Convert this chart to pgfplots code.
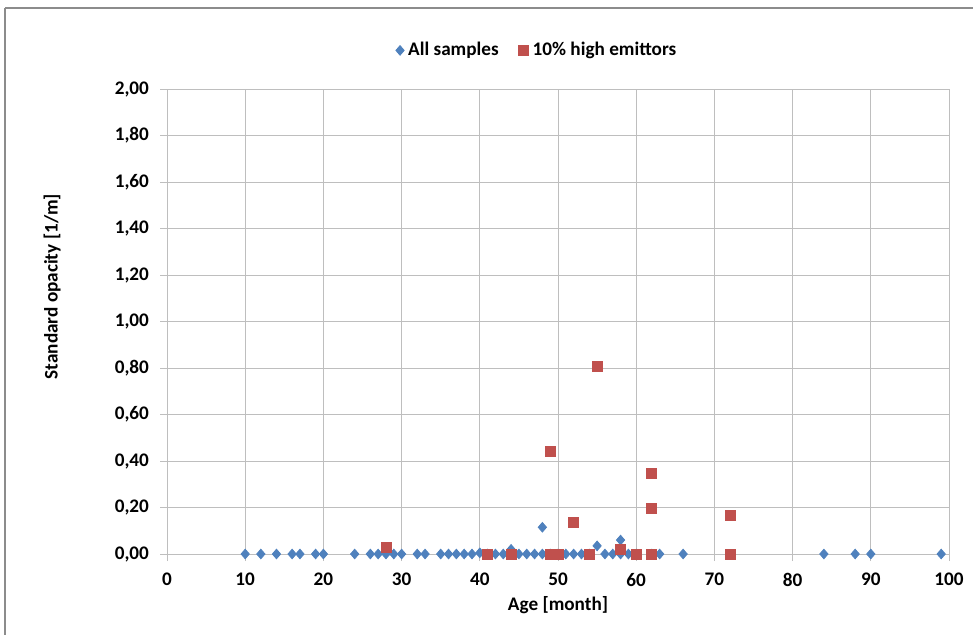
\documentclass[border=0pt]{standalone}
\usepackage{pgfplots}
\pgfplotsset{compat=1.18}
\usepackage{fontspec}
\setmainfont{Carlito}
\definecolor{gridgray}{RGB}{190,190,190}
\definecolor{framegray}{RGB}{140,140,140}
\definecolor{xlblue}{RGB}{79,129,189}
\definecolor{xlred}{RGB}{192,80,77}
\begin{document}
\begin{tikzpicture}
\useasboundingbox (0,0) rectangle (486.5pt,317pt);
\draw[framegray, line width=0.6pt] (2.5pt,313pt) -- (2.5pt,-5pt);
\draw[framegray, line width=0.6pt] (2.5pt,313pt) -- (495pt,313pt);
\begin{axis}[
  at={(83.5pt,40pt)}, anchor=south west,
  scale only axis, width=391pt, height=232.5pt,
  font=\fontsize{9.6}{11}\selectfont\bfseries,
  xmin=0, xmax=100, ymin=0, ymax=2,
  xtick={0,10,20,30,40,50,60,70,80,90,100},
  ytick={0,0.2,0.4,0.6,0.8,1,1.2,1.4,1.6,1.8,2},
  xtick pos=lower, ytick pos=left,
  tick align=outside, major tick length=3.5pt,
  tick style={gridgray, line width=0.5pt},
  grid=major, major grid style={gridgray, line width=0.5pt},
  axis line style={gridgray, line width=0.5pt},
  /pgf/number format/assume math mode=true,
  y tick label style={/pgf/number format/.cd, fixed, fixed zerofill, precision=2, use comma, /tikz/.cd, xshift=-2pt},
  x tick label style={yshift=-2.5pt},
  xlabel={Age [month]},
  ylabel={Standard opacity [1/m]},
  x label style={at={(axis description cs:0.5,0)}, anchor=center, yshift=-25.5pt},
  y label style={at={(axis description cs:-0.147,0.575)}, anchor=center},
  clip=false,
  legend columns=2,
  legend style={at={(axis description cs:0.4745,1.083)}, anchor=center, draw=none, fill=none,
    font=\fontsize{9.6}{11}\selectfont\bfseries, /tikz/every even column/.append style={column sep=8pt}},
  legend cell align=left,
]
\addplot[only marks, mark=diamond*, mark size=2.4pt, mark options={xscale=1.15, draw=none, fill=xlblue}, color=xlblue] coordinates {
(10,0) (12,0) (14,0) (16,0) (17,0) (19,0) (20,0) (24,0) (26,0) (27,0) (28,0) (29,0) (30,0)
(32,0) (33,0) (35,0) (36,0) (37,0) (38,0) (39,0) (40,0.005) (41,0) (42,0) (43,0) (44,0.02)
(45,0) (46,0) (47,0) (48,0.115) (48,0) (49,0) (50,0) (51,0) (52,0) (53,0) (54,0) (55,0.035)
(56,0) (57,0) (58,0.06) (58,0) (59,0) (60,0) (62,0) (63,0) (66,0) (84,0) (88,0) (90,0) (99,0)
};
\addlegendentry{All samples}
\addplot[only marks, mark=square*, mark size=2.5pt, mark options={draw=none, fill=xlred}, color=xlred] coordinates {
(28,0.03) (41,0) (44,0) (49,0.44) (49,0) (50,0) (52,0.135) (54,0) (55,0.805) (58,0.02)
(60,0) (62,0.345) (62,0.195) (62,0) (72,0.168) (72,0)
};
\addlegendentry{10\% high emittors}
\end{axis}
\end{tikzpicture}
\end{document}
